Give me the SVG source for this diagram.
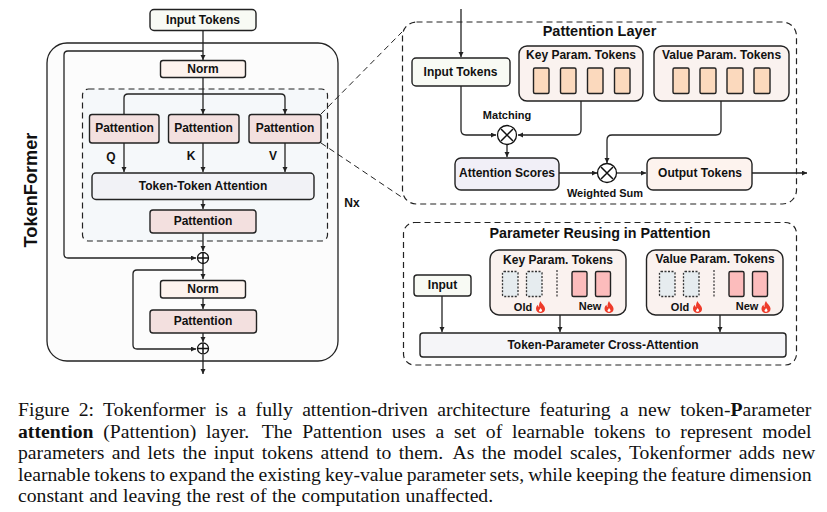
<svg xmlns="http://www.w3.org/2000/svg" width="827" height="512" viewBox="0 0 827 512">
<style>
text{font-family:"Liberation Sans",Arial,sans-serif;font-weight:700;fill:#111;text-anchor:middle;dominant-baseline:central}
.s{font-size:12px}.x{font-size:11px}
.b{stroke:#222;stroke-width:1.4}
.dash{stroke:#222;stroke-width:1.2;stroke-dasharray:6 4;fill:none}
.c{fill:none;stroke:#222;stroke-width:1.3}
.in{fill:#f8faf4}.norm{fill:#fdf3ee}.pat{fill:#f3e0df}.tt{fill:#f1f2f6}.panel{fill:#faf2ef}.tok{fill:#fbd9bd}.old{fill:#e6ecef;stroke:#333;stroke-width:1.300;stroke-dasharray:2 1.500}.new{fill:#fcbcbc}
.cap{font-family:"Liberation Serif","Times New Roman",serif;font-weight:400;font-size:19.700px;text-anchor:start;dominant-baseline:auto}
.capb{font-weight:700}
.flame{fill:#ee3b2a}
</style>
<defs>
<marker id="a" markerWidth="6" markerHeight="6" refX="5" refY="2.5" orient="auto" markerUnits="userSpaceOnUse"><path d="M0 0L5 2.5L0 5z" fill="#222"/></marker>
<symbol id="fl" viewBox="0 0 10 12" overflow="visible"><path class="flame" d="M5 0C6 3 9 4 9.500 7.500C9.800 10.500 7.500 12 5 12C2.500 12 .5 10.500 .5 7.800C.5 6 1.500 4.500 2.500 3.800C2.500 5 3 5.800 3.700 6C3.200 4 3.800 1.800 5 0Z"/><path d="M5 7C5.800 8 6.800 8.800 6.500 10C6.200 11 3.800 11 3.500 10C3.300 9 4.500 8.500 5 7Z" fill="#fff"/></symbol>
</defs>

<rect id="tokenformer-frame" x="47" y="43" width="291" height="318" rx="20" fill="#fcfcfc" stroke="#222" stroke-width="1.3"/>
<rect id="nx-frame" x="82.500" y="89" width="245" height="152" rx="6" class="dash" style="fill:#f5f8fa"/>
<text x="31" y="190" transform="rotate(-90 31 190)" style="font-size:18.200px">TokenFormer</text>
<text class="s" x="352" y="203">Nx</text>

<g id="connectors">
<path class="c" marker-end="url(#a)" d="M203 30V60"/>
<path class="c" d="M203 51H68Q64 51 64 55V254Q64 258 68 258H196" marker-end="url(#a)"/>
<path class="c" d="M203 77V114" marker-end="url(#a)"/>
<path class="c" d="M124 114V98Q124 94 128 94H281Q285 94 285 98V114" marker-end="url(#a)"/>
<path class="c" d="M124 143V172" marker-end="url(#a)"/>
<path class="c" d="M203 143V172" marker-end="url(#a)"/>
<path class="c" d="M285 143V172" marker-end="url(#a)"/>
<path class="c" d="M203 200V209" marker-end="url(#a)"/>
<path class="c" d="M203 233V251" marker-end="url(#a)"/>
<path class="c" d="M203 264V279" marker-end="url(#a)"/>
<path class="c" d="M203 270H137Q133 270 133 274V345Q133 349 137 349H196" marker-end="url(#a)"/>
<path class="c" d="M203 298V309" marker-end="url(#a)"/>
<path class="c" d="M203 333V342" marker-end="url(#a)"/>
<path class="c" d="M203 355V374" marker-end="url(#a)"/>
<path d="M321 114L402 32M321 143L403 198" fill="none" stroke="#222" stroke-width="1" stroke-dasharray="6 4"/>
</g>

<g id="input-tokens"><rect class="in b" x="150" y="9.500" width="106" height="21" rx="4"/><text class="s" x="203" y="20">Input Tokens</text></g>
<g id="norm-1"><rect class="norm b" x="160.500" y="60.500" width="85" height="17" rx="2.500"/><text class="s" x="203" y="69">Norm</text></g>
<g id="pattention-q"><rect class="pat b" x="89.500" y="114.500" width="69.500" height="28.500" rx="2.500"/><text class="s" x="124.500" y="128">Pattention</text></g>
<g id="pattention-k"><rect class="pat b" x="168.500" y="114.500" width="70.500" height="28.500" rx="2.500"/><text class="s" x="203.500" y="128">Pattention</text></g>
<g id="pattention-v"><rect class="pat b" x="249" y="114.500" width="72" height="28.500" rx="2.500"/><text class="s" x="285" y="128">Pattention</text></g>
<text class="s" x="111" y="157">Q</text><text class="s" x="191" y="156">K</text><text class="s" x="273" y="156">V</text>
<g id="token-token"><rect class="tt b" x="92" y="173" width="222" height="26.500" rx="4"/><text class="s" x="203" y="186">Token-Token Attention</text></g>
<g id="pattention-2"><rect class="pat b" x="150" y="210" width="106" height="23" rx="3"/><text class="s" x="203" y="221">Pattention</text></g>
<g id="plus-1"><circle cx="203" cy="258" r="5.500" fill="#fff" stroke="#111" stroke-width="1.300"/><path d="M198 258H208M203 253V263" stroke="#111" stroke-width="1.500"/></g>
<g id="norm-2"><rect class="norm b" x="160.500" y="280.500" width="85" height="17.500" rx="2.500"/><text class="s" x="203" y="289">Norm</text></g>
<g id="pattention-3"><rect class="pat b" x="150" y="310" width="106.500" height="23" rx="3"/><text class="s" x="203" y="321">Pattention</text></g>
<g id="plus-2"><circle cx="203" cy="348.500" r="5.500" fill="#fff" stroke="#111" stroke-width="1.300"/><path d="M198 348.500H208M203 343.500V353.500" stroke="#111" stroke-width="1.500"/></g>

<g id="pattention-layer">
<rect class="dash" x="402.500" y="22" width="394" height="182" rx="14"/>
<text x="599.500" y="31" style="font-size:14.500px">Pattention Layer</text>
</g>
<g id="layer-connectors">
<path class="c" d="M461 9V57" marker-end="url(#a)"/>
<path class="c" d="M461 86V130Q461 135 466 135H496" marker-end="url(#a)"/>
<path class="c" d="M581 101V130Q581 135 576 135H518" marker-end="url(#a)"/>
<path class="c" d="M507 145V157" marker-end="url(#a)"/>
<path class="c" d="M559 173H597" marker-end="url(#a)"/>
<path class="c" d="M721 101V130Q721 135 716 135H612Q607 135 607 140V163" marker-end="url(#a)"/>
<path class="c" d="M617 173H646" marker-end="url(#a)"/>
<path class="c" d="M752 173H807" marker-end="url(#a)"/>
</g>
<g id="layer-input"><rect class="in b" x="412" y="58" width="98" height="28" rx="4"/><text class="s" x="460.500" y="72">Input Tokens</text></g>
<g id="layer-key"><rect class="panel b" x="519" y="46" width="124" height="55" rx="8"/><text class="s" x="581" y="55">Key Param. Tokens</text>
<rect class="tok b" x="533.500" y="68" width="15.500" height="25.500" rx="1.500"/><rect class="tok b" x="560.500" y="68" width="15.500" height="25.500" rx="1.500"/><rect class="tok b" x="587.500" y="68" width="15.500" height="25.500" rx="1.500"/><rect class="tok b" x="614.500" y="68" width="15.500" height="25.500" rx="1.500"/></g>
<g id="layer-value"><rect class="panel b" x="654" y="46" width="135" height="55" rx="8"/><text class="s" x="721.500" y="55">Value Param. Tokens</text>
<rect class="tok b" x="673" y="68" width="16" height="25.500" rx="1.500"/><rect class="tok b" x="700" y="68" width="16" height="25.500" rx="1.500"/><rect class="tok b" x="727" y="68" width="16" height="25.500" rx="1.500"/><rect class="tok b" x="754" y="68" width="16" height="25.500" rx="1.500"/></g>
<text class="x" x="507" y="115">Matching</text>
<g id="matching"><circle cx="507" cy="135" r="9.500" fill="#fff" stroke="#111" stroke-width="1.300"/><path d="M501 129L513 141M513 129L501 141" stroke="#111" stroke-width="1.500"/></g>
<g id="attention-scores"><rect class="b" fill="#f1eff7" x="455" y="158" width="104" height="32" rx="6"/><text class="s" x="507" y="173">Attention Scores</text></g>
<g id="weighted-sum"><circle cx="607" cy="173" r="9.500" fill="#fff" stroke="#111" stroke-width="1.300"/><path d="M601 167L613 179M613 167L601 179" stroke="#111" stroke-width="1.500"/></g>
<text class="x" x="605" y="193">Weighted Sum</text>
<g id="output-tokens"><rect class="b norm" x="647" y="158" width="105" height="32" rx="6"/><text class="s" x="700" y="173">Output Tokens</text></g>

<g id="parameter-reusing">
<rect class="dash" x="403.500" y="222.500" width="393" height="142.500" rx="11"/>
<text x="600" y="233" style="font-size:14.300px">Parameter Reusing in Pattention</text>
</g>
<g id="reuse-connectors">
<path class="c" d="M442 296V332" marker-end="url(#a)"/>
<path class="c" d="M560 315V332" marker-end="url(#a)"/>
<path class="c" d="M720 315V332" marker-end="url(#a)"/>
</g>
<g id="reuse-input"><rect class="in b" x="414" y="275" width="57" height="21" rx="3"/><text class="s" x="442.500" y="285">Input</text></g>
<g id="reuse-key"><rect class="panel b" x="490" y="250" width="136" height="65" rx="9"/><text class="s" x="558" y="260">Key Param. Tokens</text>
<rect class="old" x="502.500" y="271.500" width="15.500" height="25" rx="1.500"/><rect class="old" x="526.500" y="271.500" width="15.500" height="25" rx="1.500"/>
<path d="M557 270V297" stroke="#222" stroke-width="1.100" stroke-dasharray="2 1.500"/>
<rect class="new b" x="572" y="271.500" width="15" height="25" rx="1.500"/><rect class="new b" x="595.500" y="271.500" width="15" height="25" rx="1.500"/>
<text class="x" x="523" y="307">Old</text><use href="#fl" x="535.500" y="301" width="10" height="12"/>
<text class="x" x="590" y="306">New</text><use href="#fl" x="604" y="301" width="10" height="12"/></g>
<g id="reuse-value"><rect class="panel b" x="646.500" y="250" width="136.500" height="65" rx="9"/><text class="s" x="715" y="259">Value Param. Tokens</text>
<rect class="old" x="659.500" y="271.500" width="15.500" height="25" rx="1.500"/><rect class="old" x="683.500" y="271.500" width="15.500" height="25" rx="1.500"/>
<path d="M714 270V297" stroke="#222" stroke-width="1.100" stroke-dasharray="2 1.500"/>
<rect class="new b" x="729" y="271.500" width="15" height="25" rx="1.500"/><rect class="new b" x="752.500" y="271.500" width="15" height="25" rx="1.500"/>
<text class="x" x="680" y="307">Old</text><use href="#fl" x="692.500" y="301" width="10" height="12"/>
<text class="x" x="747" y="306">New</text><use href="#fl" x="761" y="301" width="10" height="12"/></g>
<g id="cross-attention"><rect class="tt b" x="420" y="333" width="366" height="24" rx="3" style="fill:#f5f5f8"/><text class="s" x="603" y="345">Token-Parameter Cross-Attention</text></g>

<g id="caption">
<text class="cap" x="18" y="416" style="word-spacing:4.450px">Figure 2: Tokenformer is a fully attention-driven architecture featuring a new token-<tspan class="capb">P</tspan>arameter</text>
<text class="cap" x="18" y="437.500" style="word-spacing:4.900px"><tspan class="capb">attention</tspan> (Pattention) layer. <tspan dx="3">The</tspan> Pattention uses a set of learnable tokens to represent model</text>
<text class="cap" x="18" y="459" style="word-spacing:2.500px">parameters and lets the input tokens attend to them. <tspan dx="3">As</tspan> the model scales, Tokenformer adds new</text>
<text class="cap" x="18" y="480.500" style="word-spacing:-.77px">learnable tokens to expand the existing key-value parameter sets, while keeping the feature dimension</text>
<text class="cap" x="18" y="502" style="word-spacing:.6px">constant and leaving the rest of the computation unaffected.</text>
</g>
</svg>
